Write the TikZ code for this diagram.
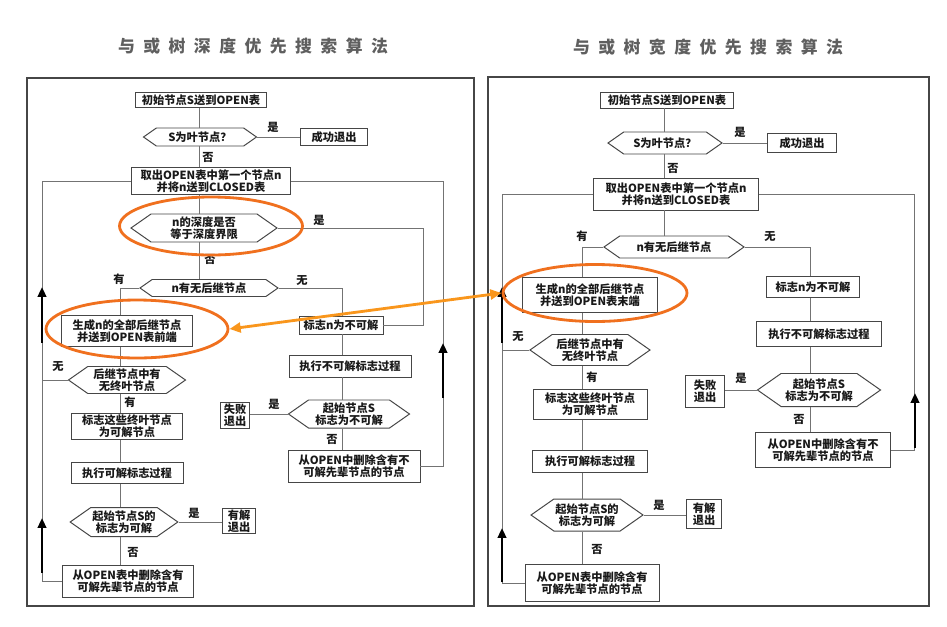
\documentclass[tikz,border=0pt]{standalone}
\usepackage{fontspec}
\newfontfamily\cjk{Noto Sans CJK SC}
\newfontfamily\cjktitle[LetterSpace=50]{Noto Sans CJK SC}
\usepackage{xcolor}
\definecolor{ink}{RGB}{25,25,25}
\definecolor{wire}{RGB}{115,115,115}
\definecolor{rim}{RGB}{70,70,70}
\definecolor{slate}{RGB}{95,95,95}
\definecolor{flame}{RGB}{240,112,30}
\definecolor{amber}{RGB}{249,150,28}
\usepackage{tikz}
\usetikzlibrary{arrows.meta,shapes.geometric,shapes.symbols}
\newlength{\unitpx}
\setlength{\unitpx}{0.025cm}

\begin{document}
\begin{tikzpicture}[
  x=0.025cm, y=-0.025cm,
  box/.style={rectangle,draw=rim,fill=white,line width=0.7pt,
              font=\cjk\bfseries\fontsize{8}{8.8}\selectfont,text=ink,
              inner sep=1pt, align=center},
  hexa/.style={signal,signal to=west and east,signal pointer angle=70,
               draw=rim,fill=white,line width=0.7pt,
               font=\cjk\bfseries\fontsize{8}{8.8}\selectfont,text=ink,
               inner sep=1pt, align=center},
  lbl/.style={font=\cjk\bfseries\fontsize{8}{9}\selectfont,text=ink,inner sep=0pt},
  title/.style={font=\cjktitle\bfseries\fontsize{12}{14}\selectfont,text=slate},
  wire/.style={draw=wire,line width=0.6pt},
  frame/.style={draw=rim,line width=1pt},
  heavy/.style={draw=black,line width=2pt,-{Triangle[length=7pt,width=6pt]}},
  ring/.style={ellipse,draw=flame,line width=2pt,inner sep=0pt},
  link/.style={draw=amber,line width=2pt,
               {Triangle[length=8pt,width=7pt]}-{Triangle[length=8pt,width=7pt]}},
]
  \path[use as bounding box,fill=white] (0,0) rectangle (947,626);

  %% Titles and frames
  \node[title] (Ltitle) at (253,46) {与或树深度优先搜索算法};
  \node[title] (Rtitle) at (708,47) {与或树宽度优先搜索算法};
  \draw[frame] (27,78) rectangle (474,606);
  \draw[frame] (488,77) rectangle (929,606);

  %% Depth-first: main column
  \node[box,minimum width=131\unitpx,minimum height=15\unitpx] (L1) at (201,100) {初始节点S送到OPEN表};
  \node[hexa,minimum width=113\unitpx,minimum height=18\unitpx] (L2) at (200,137) {S为叶节点？};
  \node[box,minimum width=67\unitpx,minimum height=17\unitpx] (L2y) at (334,137) {成功退出};
  \node[box,minimum width=159\unitpx,minimum height=26\unitpx] (L3) at (211,181) {取出OPEN表中第一个节点n\\并将n送到CLOSED表};
  \node[hexa,minimum width=146\unitpx,minimum height=28\unitpx] (L4) at (204,228) {n的深度是否\\等于深度界限};
  \node[hexa,minimum width=138\unitpx,minimum height=17\unitpx] (L5) at (209,288) {n有无后继节点};

  %% Depth-first: solvable branch
  \node[box,minimum width=131\unitpx,minimum height=31\unitpx] (L6) at (127,331) {生成n的全部后继节点\\并送到OPEN表前端};
  \node[hexa,minimum width=117\unitpx,minimum height=27\unitpx] (L7) at (127,380) {后继节点中有\\无终叶节点};
  \node[box,minimum width=111\unitpx,minimum height=26\unitpx] (L8) at (127,426) {标志这些终叶节点\\为可解节点};
  \node[box,minimum width=112\unitpx,minimum height=21\unitpx] (L9) at (127,473) {执行可解标志过程};
  \node[hexa,minimum width=100\unitpx,minimum height=29\unitpx] (L10) at (124,522) {起始节点S的\\标志为可解};
  \node[box,minimum width=33\unitpx,minimum height=25\unitpx] (L10y) at (239,521) {有解\\退出};
  \node[box,minimum width=131\unitpx,minimum height=32\unitpx] (L11) at (128,581) {从OPEN表中删除含有\\可解先辈节点的节点};

  %% Depth-first: unsolvable branch
  \node[box,minimum width=84\unitpx,minimum height=18\unitpx] (L12) at (341,325) {标志n为不可解};
  \node[box,minimum width=122\unitpx,minimum height=22\unitpx] (L13) at (350,366) {执行不可解标志过程};
  \node[hexa,minimum width=121\unitpx,minimum height=28\unitpx] (L14) at (349,414) {起始节点S\\标志为不可解};
  \node[box,minimum width=29\unitpx,minimum height=26\unitpx] (L14y) at (235,415) {失败\\退出};
  \node[box,minimum width=132\unitpx,minimum height=32\unitpx] (L15) at (354,466) {从OPEN中删除含有不\\可解先辈节点的节点};

  \coordinate (Lmid) at (199,0);
  \coordinate (Lsub) at (120,0);
  \coordinate (Lfail) at (342,0);
  \coordinate (Lloop) at (42,0);
  \coordinate (Lback) at (443,0);
  \coordinate (Lyes) at (423,0);

  \foreach \a/\b in {L1/L2,L2/L3,L3/L4,L4/L5}
    \draw[wire] (\a.south -| Lmid) -- (\b.north -| Lmid);
  \foreach \a/\b in {L6/L7,L7/L8,L8/L9,L9/L10,L10/L11}
    \draw[wire] (\a.south -| Lsub) -- (\b.north -| Lsub);
  \foreach \a/\b in {L12/L13,L13/L14,L14/L15}
    \draw[wire] (\a.south -| Lfail) -- (\b.north -| Lfail);
  \draw[wire] (L2.east) -- (L2y.west);
  \draw[wire] (L4.east) -| (Lyes |- L12.east) -- (L12.east);
  \draw[wire] (L5.west) -| (L6.north -| Lsub);
  \draw[wire] (L5.east) -| (L12.north -| Lfail);
  \draw[wire] (L3.west) -| (Lloop |- L11.west) -- (L11.west);
  \draw[wire] (L7.west) -- (L7.west -| Lloop);
  \draw[wire] (L10.east) -- (L10.east -| L10y.west);
  \draw[wire] (L14.west) -- (L14.west -| L14y.east);
  \draw[wire] (L15.east) -| (Lback |- L3.east) -- (L3.east);

  \node[lbl] (La1) at (273,127) {是};
  \node[lbl] (La2) at (208,157) {否};
  \node[lbl] (La3) at (319,220) {是};
  \node[lbl] (La4) at (210,259) {否};
  \node[lbl] (La5) at (119,279) {有};
  \node[lbl] (La6) at (302,281) {无};
  \node[lbl] (La7) at (58,367) {无};
  \node[lbl] (La8) at (130,402) {有};
  \node[lbl] (La9) at (274,404) {是};
  \node[lbl] (La10) at (332,439) {否};
  \node[lbl] (La11) at (194,513) {是};
  \node[lbl] (La12) at (133,552) {否};

  \coordinate (LupA0) at (42,343);  \coordinate (LupA1) at (42,287);
  \coordinate (LupB0) at (443,398); \coordinate (LupB1) at (443,343);
  \coordinate (LupC0) at (42,573);  \coordinate (LupC1) at (42,518);
  \draw[heavy] (LupA0) -- (LupA1);
  \draw[heavy] (LupB0) -- (LupB1);
  \draw[heavy] (LupC0) -- (LupC1);

  %% Breadth-first: main column
  \node[box,minimum width=133\unitpx,minimum height=16\unitpx] (R1) at (667,100) {初始节点S送到OPEN表};
  \node[hexa,minimum width=114\unitpx,minimum height=22\unitpx] (R2) at (665,143) {S为叶节点？};
  \node[box,minimum width=69\unitpx,minimum height=19\unitpx] (R2y) at (802,143) {成功退出};
  \node[box,minimum width=165\unitpx,minimum height=32\unitpx] (R3) at (676,194) {取出OPEN表中第一个节点n\\并将n送到CLOSED表};
  \node[hexa,minimum width=140\unitpx,minimum height=22\unitpx] (R4) at (674,247) {n有无后继节点};

  %% Breadth-first: solvable branch
  \node[box,minimum width=135\unitpx,minimum height=35\unitpx] (R5) at (590,295) {生成n的全部后继节点\\并送到OPEN表末端};
  \node[hexa,minimum width=120\unitpx,minimum height=31\unitpx] (R6) at (590,350) {后继节点中有\\无终叶节点};
  \node[box,minimum width=114\unitpx,minimum height=30\unitpx] (R7) at (590,404) {标志这些终叶节点\\为可解节点};
  \node[box,minimum width=115\unitpx,minimum height=22\unitpx] (R8) at (590,461) {执行可解标志过程};
  \node[hexa,minimum width=103\unitpx,minimum height=32\unitpx] (R9) at (587,515) {起始节点S的\\标志为可解};
  \node[box,minimum width=35\unitpx,minimum height=29\unitpx] (R9y) at (704,514) {有解\\退出};
  \node[box,minimum width=134\unitpx,minimum height=37\unitpx] (R10) at (592,583) {从OPEN表中删除含有\\可解先辈节点的节点};

  %% Breadth-first: unsolvable branch
  \node[box,minimum width=93\unitpx,minimum height=21\unitpx] (R11) at (813,287) {标志n为不可解};
  \node[box,minimum width=125\unitpx,minimum height=25\unitpx] (R12) at (819,334) {执行不可解标志过程};
  \node[hexa,minimum width=123\unitpx,minimum height=33\unitpx] (R13) at (819,390) {起始节点S\\标志为不可解};
  \node[box,minimum width=39\unitpx,minimum height=32\unitpx] (R13y) at (705,391) {失败\\退出};
  \node[box,minimum width=135\unitpx,minimum height=35\unitpx] (R14) at (823,450) {从OPEN中删除含有不\\可解先辈节点的节点};

  \coordinate (Rmid) at (664,0);
  \coordinate (Rsub) at (582,0);
  \coordinate (Rfail) at (810,0);
  \coordinate (Rloop) at (502,0);
  \coordinate (Rback) at (914,0);

  \foreach \a/\b in {R1/R2,R2/R3,R3/R4}
    \draw[wire] (\a.south -| Rmid) -- (\b.north -| Rmid);
  \foreach \a/\b in {R5/R6,R6/R7,R7/R8,R8/R9,R9/R10}
    \draw[wire] (\a.south -| Rsub) -- (\b.north -| Rsub);
  \foreach \a/\b in {R11/R12,R12/R13,R13/R14}
    \draw[wire] (\a.south -| Rfail) -- (\b.north -| Rfail);
  \draw[wire] (R2.east) -- (R2y.west);
  \draw[wire] (R3.west) -| (Rloop |- R10.west) -- (R10.west);
  \draw[wire] (R3.east) -| (Rback |- R14.east) -- (R14.east);
  \draw[wire] (R4.west) -| (R5.north -| Rsub);
  \draw[wire] (R4.east) -| (R11.north -| Rfail);
  \draw[wire] (R6.west) -- (R6.west -| Rloop);
  \draw[wire] (R9.east) -- (R9.east -| R9y.west);
  \draw[wire] (R13.west) -- (R13.west -| R13y.east);

  \node[lbl] (Ra1) at (740,132) {是};
  \node[lbl] (Ra2) at (673,168) {否};
  \node[lbl] (Ra3) at (582,236) {有};
  \node[lbl] (Ra4) at (770,237) {无};
  \node[lbl] (Ra5) at (518,337) {无};
  \node[lbl] (Ra6) at (592,377) {有};
  \node[lbl] (Ra7) at (741,378) {是};
  \node[lbl] (Ra8) at (799,419) {否};
  \node[lbl] (Ra9) at (659,505) {是};
  \node[lbl] (Ra10) at (597,549) {否};

  \coordinate (RupA0) at (502,343); \coordinate (RupA1) at (502,287);
  \coordinate (RupB0) at (915,448); \coordinate (RupB1) at (915,393);
  \coordinate (RupC0) at (502,582); \coordinate (RupC1) at (502,528);
  \draw[heavy] (RupA0) -- (RupA1);
  \draw[heavy] (RupB0) -- (RupB1);
  \draw[heavy] (RupC0) -- (RupC1);

  %% Highlight rings and link
  \node[ring,minimum width=183\unitpx,minimum height=58\unitpx] (LringA) at (211,226) {};
  \node[ring,minimum width=182\unitpx,minimum height=58\unitpx] (LringB) at (137,329) {};
  \node[ring,minimum width=184\unitpx,minimum height=57\unitpx] (RringA) at (595,293) {};
  \draw[link] (LringB.east) -- (RringA.west);
\end{tikzpicture}
\end{document}
